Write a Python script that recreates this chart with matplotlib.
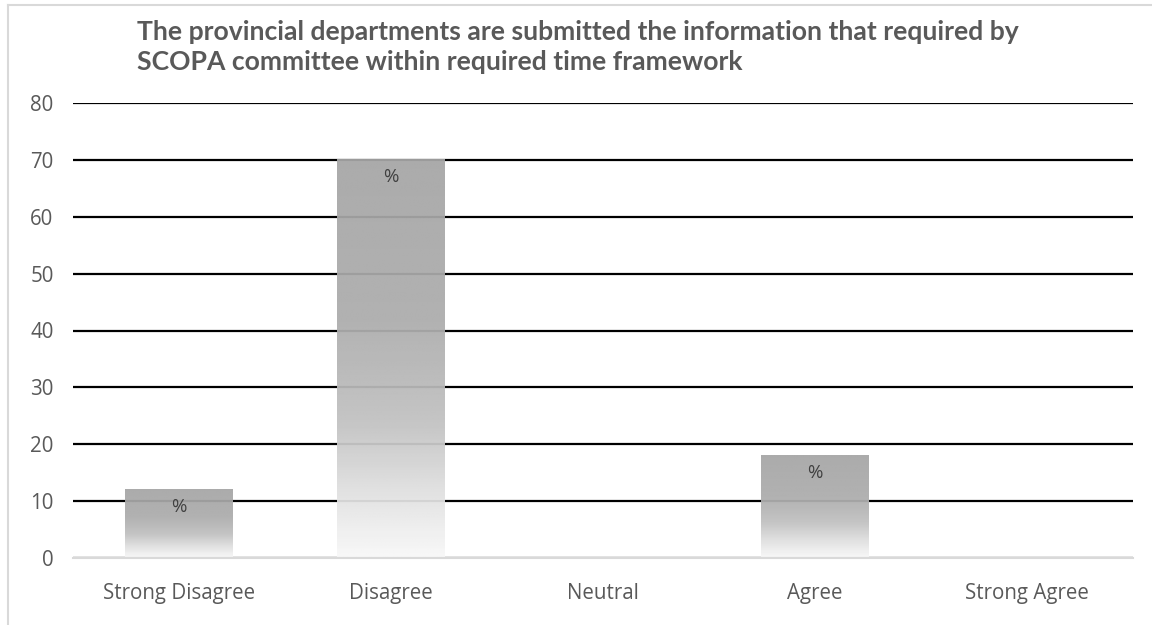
import numpy as np
import matplotlib
matplotlib.use("Agg")
import matplotlib.pyplot as plt
from matplotlib.lines import Line2D

categories = ["Strong Disagree", "Disagree", "Neutral", "Agree", "Strong Agree"]
values = [12, 70, 0, 18, 0]
bar_labels = ["%", "%", "", "%", ""]
title_lines = [
    "The provincial departments are submitted the information that required by",
    "SCOPA committee within required time framework",
]

TEXT = "#595959"
W, H = 1152, 625

plt.rcParams["font.family"] = ["Open Sans", "DejaVu Sans"]

fig = plt.figure(figsize=(W / 100, H / 100), dpi=100)
ax = fig.add_axes([73 / W, 67 / H, 1060 / W, 455 / H])

x = np.arange(len(categories))
bars = ax.bar(x, values, width=0.505, facecolor="none", edgecolor="none", zorder=3)

# vertical gradient: dark grey on top fading to near white at the base
stops_f = [0.0, 0.15, 0.35, 0.6, 1.0]
stops_v = [248, 226, 192, 172, 166]
ramp = np.interp(np.linspace(0, 1, 256), stops_f, stops_v)[::-1] / 255.0
for rect in bars:
    h = rect.get_height()
    if h <= 0:
        continue
    x0 = rect.get_x()
    img = np.repeat(ramp[:, None], 2, axis=1)
    ax.imshow(img, cmap="gray", vmin=0, vmax=1, aspect="auto",
              extent=(x0, x0 + rect.get_width(), 0, h), alpha=0.94,
              interpolation="bilinear", zorder=3)

for rect, lab in zip(bars, bar_labels):
    if not lab:
        continue
    ax.annotate(lab, (rect.get_x() + rect.get_width() / 2, rect.get_height()),
                xytext=(0, -17), textcoords="offset pixels",
                ha="center", va="center", fontsize=13.5, color="#404040", zorder=4)

ax.set_xlim(-0.5, len(categories) - 0.5)
ax.set_ylim(0, 80)
ax.set_yticks(range(0, 81, 10))
ax.set_xticks(x)
ax.set_xticklabels(categories)
ax.yaxis.grid(True, color="black", linewidth=1.6, zorder=1)
ax.set_axisbelow(True)
ax.tick_params(axis="both", length=0, labelsize=14.8, labelcolor=TEXT)
ax.tick_params(axis="y", pad=14)
ax.tick_params(axis="x", pad=18)
for side in ("left", "right", "top"):
    ax.spines[side].set_visible(False)
ax.spines["bottom"].set_color("#d9d9d9")
ax.spines["bottom"].set_linewidth(1.5)
ax.spines["bottom"].set_zorder(5)

for i, line in enumerate(title_lines):
    fig.text(137 / W, 1 - (32 + 30 * i) / H, line, ha="left", va="center",
             fontsize=19.1, fontweight="bold", color=TEXT, family=["Lato", "DejaVu Sans"])

# chart frame edges (left and top)
fig.add_artist(Line2D([7.5 / W, 7.5 / W], [0, 1 - 5 / H], color="#d9d9d9", linewidth=1.5))
fig.add_artist(Line2D([7.5 / W, 1], [1 - 5 / H, 1 - 5 / H], color="#d9d9d9", linewidth=1.5))

fig.savefig("out.png", dpi=100)
